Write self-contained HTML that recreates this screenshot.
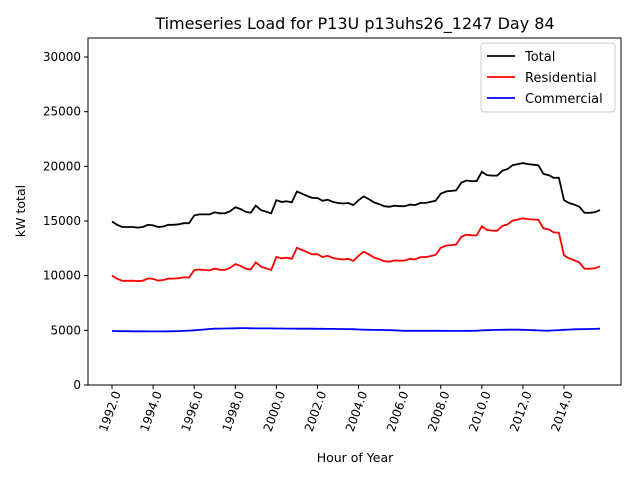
<!DOCTYPE html>
<html><head><meta charset="utf-8"><style>
body{margin:0;background:#fff;}
svg{font-family:"DejaVu Sans","Liberation Sans",sans-serif;}
</style></head><body>
<svg id="c" width="640" height="480"></svg>
<script>
const years=[1992,1993,1994,1995,1996,1997,1998,1999,2000,2001,2002,2003,2004,2005,2006,2007,2008,2009,2010,2011,2012,2013,2014,2015];
const totalVals=[14950,14650,14450,14450,14450,14400,14450,14650,14600,14450,14500,14650,14650,14700,14800,14800,15500,15600,15600,15600,15800,15700,15700,15900,16250,16100,15850,15750,16400,16000,15850,15700,16900,16750,16800,16700,17700,17500,17300,17100,17100,16850,16950,16750,16650,16600,16650,16450,16900,17250,17000,16700,16550,16350,16300,16400,16350,16350,16500,16450,16650,16650,16750,16850,17500,17700,17750,17800,18500,18700,18650,18650,19500,19200,19150,19150,19600,19750,20100,20200,20300,20200,20150,20100,19300,19200,18950,18950,16900,16650,16500,16300,15750,15750,15800,16000];
const residentialVals=[10000,9720,9530,9530,9540,9490,9540,9750,9700,9550,9600,9740,9730,9770,9850,9820,10500,10560,10520,10480,10650,10540,10530,10720,11060,10900,10650,10560,11220,10820,10670,10520,11730,11580,11640,11540,12550,12350,12150,11950,11960,11710,11820,11620,11530,11480,11540,11350,11820,12190,11950,11660,11510,11320,11280,11400,11370,11390,11540,11490,11690,11690,11790,11890,12540,12750,12800,12850,13550,13750,13690,13680,14510,14190,14120,14110,14550,14690,15040,15140,15250,15170,15140,15110,14320,14230,13960,13930,11850,11580,11410,11200,10640,10630,10670,10850];
const commercialVals=[4950,4930,4920,4920,4910,4910,4910,4900,4900,4900,4900,4910,4920,4930,4950,4980,5000,5040,5080,5120,5150,5160,5170,5180,5190,5200,5200,5190,5180,5180,5180,5180,5170,5170,5160,5160,5150,5150,5150,5150,5140,5140,5130,5130,5120,5120,5110,5100,5080,5060,5050,5040,5040,5030,5020,5000,4980,4960,4960,4960,4960,4960,4960,4960,4960,4950,4950,4950,4950,4950,4960,4970,4990,5010,5030,5040,5050,5060,5060,5060,5050,5030,5010,4990,4980,4970,4990,5020,5050,5070,5090,5100,5110,5120,5130,5150];
const xTicks=[1992,1994,1996,1998,2000,2002,2004,2006,2008,2010,2012,2014];
const yTicks=[0,5000,10000,15000,20000,25000,30000];
const L=88,R=621,T=38,B=385;
const X=v=>112+(v-1992)*(564-112)/22;
const Y=v=>B-v*(B-57)/30000;
const NS='http://www.w3.org/2000/svg';
const svg=document.getElementById('c');
function el(t,a,txt){const e=document.createElementNS(NS,t);for(const k in a)e.setAttribute(k,a[k]);if(txt!=null)e.textContent=txt;svg.appendChild(e);return e;}
const xs=totalVals.map((_,i)=>years[0]+i*0.25);
function line(vals,color,name){
 const p=el('polyline',{points:vals.map((v,i)=>X(xs[i]).toFixed(1)+','+Y(v).toFixed(1)).join(' '),fill:'none',stroke:color,'stroke-width':1.8});
 
 
}
line(totalVals,'#000','total-line');
line(residentialVals,'#ff0000','residential-line');
line(commercialVals,'#0000ff','commercial-line');
const frame=el('rect',{x:L,y:T,width:R-L,height:B-T,fill:'none',stroke:'#000','stroke-width':1});


xTicks.forEach(t=>{
 const x=X(t);
 el('line',{x1:x,x2:x,y1:B,y2:B+4,stroke:'#000'});
 const ax=x+9, ay=B+8;
 const tx=el('text',{x:ax,y:ay,'font-size':12,'text-anchor':'end',transform:`rotate(-70 ${ax} ${ay})`},t.toFixed(1));
 
 
});
yTicks.forEach(t=>{
 const y=Y(t);
 el('line',{x1:L-4,x2:L,y1:y,y2:y,stroke:'#000'});
 const tx=el('text',{x:L-7,y:y+4,'font-size':12,'text-anchor':'end'},t);
 
 
});
</script>
<svg width="640" height="480" style="position:absolute;left:0;top:0">
<text x="355" y="29" font-size="16" text-anchor="middle" font-family="DejaVu Sans,sans-serif">Timeseries Load for P13U p13uhs26_1247  Day 84</text>
<text x="355" y="462" font-size="12.5" text-anchor="middle" font-family="DejaVu Sans,sans-serif">Hour of Year</text>
<text x="25" y="211" font-size="12.5" text-anchor="middle" transform="rotate(-90 25 211)" font-family="DejaVu Sans,sans-serif">kW total</text>
<g font-family="DejaVu Sans,sans-serif" font-size="13">
<rect x="481" y="43" width="134" height="69" rx="3" fill="#fff" stroke="#ccc"/>
<g><line x1="487" x2="515" y1="56" y2="56" stroke="#000" stroke-width="1.8"/><text x="525" y="61">Total</text></g>
<g><line x1="487" x2="515" y1="77" y2="77" stroke="#f00" stroke-width="1.8"/><text x="525" y="82">Residential</text></g>
<g><line x1="487" x2="515" y1="98" y2="98" stroke="#00f" stroke-width="1.8"/><text x="525" y="103">Commercial</text></g>
</g>
</svg>
</body></html>
